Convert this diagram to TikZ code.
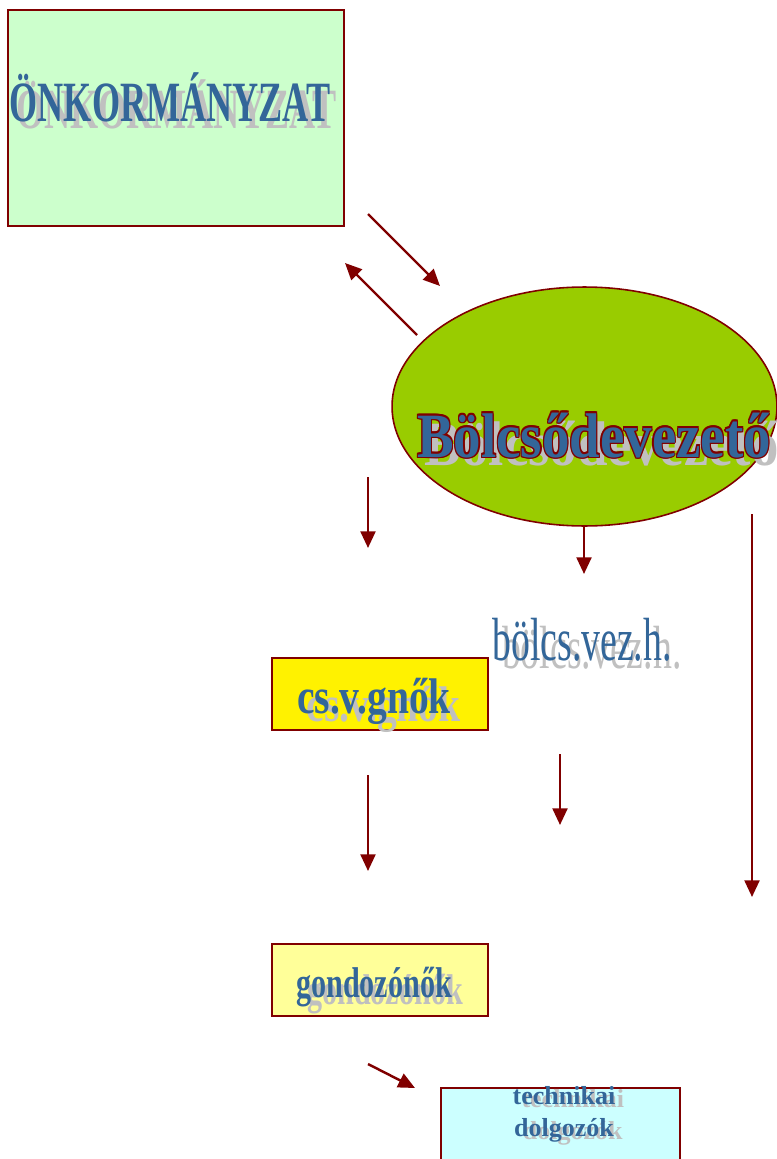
\documentclass[tikz,border=0pt]{standalone}
\usepackage{fontspec}
\setmainfont{Liberation Serif}
\usetikzlibrary{shapes.geometric,arrows.meta}
\definecolor{darkred}{rgb}{0.5, 0.0, 0.0}
\definecolor{txtblue}{RGB}{51,102,153}
\definecolor{shadowgray}{RGB}{192,192,192}
\definecolor{mintgreen}{RGB}{204,255,204}
\definecolor{limegreen}{RGB}{153,204,0}
\definecolor{paleyellow}{RGB}{255,255,153}
\definecolor{palecyan}{RGB}{204,255,255}

% gray shadow behind a text
\newcommand{\shad}[3]{\rlap{\hspace{#1}\raisebox{-#2}{\textcolor{shadowgray}{#3}}}#3}
% shadow plus dark red outline
\newcommand{\outl}[1]{\rlap{\hspace{5pt}\raisebox{-5pt}{\textcolor{shadowgray}{#1}}}%
  \rlap{\hspace{-0.8pt}\textcolor{darkred}{#1}}\rlap{\hspace{0.8pt}\textcolor{darkred}{#1}}%
  \rlap{\raisebox{0.8pt}{\textcolor{darkred}{#1}}}\rlap{\raisebox{-0.8pt}{\textcolor{darkred}{#1}}}%
  \rlap{\hspace{0.6pt}\raisebox{0.6pt}{\textcolor{darkred}{#1}}}\rlap{\hspace{-0.6pt}\raisebox{-0.6pt}{\textcolor{darkred}{#1}}}%
  \rlap{\hspace{0.6pt}\raisebox{-0.6pt}{\textcolor{darkred}{#1}}}\rlap{\hspace{-0.6pt}\raisebox{0.6pt}{\textcolor{darkred}{#1}}}%
  #1}

\tikzset{
  box/.style={draw=darkred, line width=1.1pt, rectangle, inner sep=0pt},
  lbl/.style={text=txtblue, inner sep=0pt, anchor=base},
  arr/.style={draw=darkred, line width=1.4pt, -{Triangle[length=9.5pt,width=8.5pt]}}
}

\begin{document}
\begin{tikzpicture}[x=0.02cm, y=-0.02cm]
        \useasboundingbox (0,0) rectangle (777,1159);

        \node[box, fill=mintgreen, minimum width=6.72cm, minimum height=4.32cm] (onk) at (176,118) {};
        \node[draw=darkred, line width=0.9pt, ellipse, fill=limegreen, minimum width=7.7cm, minimum height=4.78cm] (vez) at (584.5,406.5) {};
        \node[box, fill=yellow, minimum width=4.32cm, minimum height=1.44cm] (csv) at (380,694) {};
        \node[box, fill=paleyellow, minimum width=4.32cm, minimum height=1.44cm] (gond) at (380,980) {};
        \node[box, fill=palecyan, minimum width=4.78cm, minimum height=1.84cm] (tech) at (560.5,1134) {};

        \node[lbl, font=\bfseries\fontsize{32.4}{36}\selectfont] (onkt) at (170,121) {\scalebox{0.635}[1]{\shad{6pt}{4pt}{ÖNKORMÁNYZAT}}};
        \node[lbl, font=\bfseries\fontsize{35.9}{40}\selectfont] (vezt) at (594,457) {\scalebox{0.87}[1]{\outl{Bölcsődevezető}}};
        \node[lbl, font=\fontsize{34.7}{38}\selectfont] (bvh) at (582,660) {\scalebox{0.62}[1]{\shad{9pt}{5pt}{bölcs.vez.h.}}};
        \node[lbl, font=\bfseries\fontsize{28.5}{32}\selectfont] (csvt) at (374,713) {\scalebox{0.79}[1]{\shad{7pt}{5pt}{cs.v.gnők}}};
        \node[lbl, font=\bfseries\fontsize{24.5}{28}\selectfont] (gondt) at (374,997) {\scalebox{0.7}[1]{\shad{9pt}{4pt}{gondozónők}}};
        \node[lbl, font=\bfseries\fontsize{14.8}{18.2}\selectfont, align=center, anchor=north] (techt) at (564,1086) {\shad{5pt}{2pt}{technikai}\\\shad{5pt}{2pt}{dolgozók}};

        \coordinate (a1s) at (368,214);  \coordinate (a1e) at (440,286);
        \coordinate (a2s) at (417,335);  \coordinate (a2e) at (345,263);
        \coordinate (a3s) at (368,477);  \coordinate (a3e) at (368,548);
        \coordinate (a4s) at (584,527);  \coordinate (a4e) at (584,574);
        \coordinate (a5s) at (752,514);  \coordinate (a5e) at (752,897);
        \coordinate (a6s) at (560,754);  \coordinate (a6e) at (560,825);
        \coordinate (a7s) at (368,775);  \coordinate (a7e) at (368,871);
        \coordinate (a8s) at (368,1064); \coordinate (a8e) at (415,1088);

        \draw[arr] (a1s) -- (a1e);
        \draw[arr] (a2s) -- (a2e);
        \draw[arr] (a3s) -- (a3e);
        \draw[arr] (a4s) -- (a4e);
        \draw[arr] (a5s) -- (a5e);
        \draw[arr] (a6s) -- (a6e);
        \draw[arr] (a7s) -- (a7e);
        \draw[arr] (a8s) -- (a8e);
    \end{tikzpicture}
\end{document}
